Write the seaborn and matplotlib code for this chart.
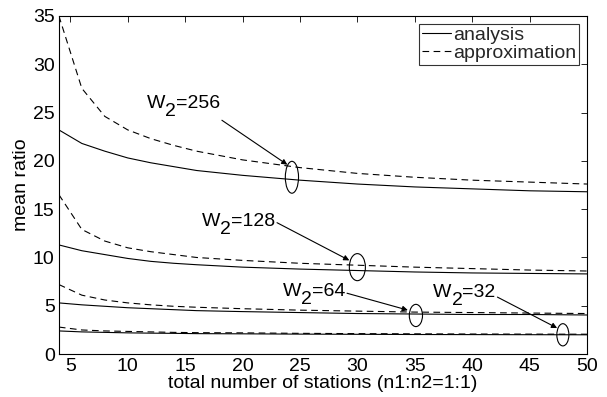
import matplotlib
matplotlib.use("Agg")
import matplotlib.pyplot as plt
from matplotlib.patches import Ellipse
from matplotlib.lines import Line2D
import seaborn as sns
import pandas as pd

sns.set_theme(style="white")
plt.rcParams['font.family'] = ['Liberation Sans', 'DejaVu Sans']

x = [4, 6, 8, 10, 12, 14, 16, 20, 25, 30, 35, 40, 45, 50]

approx_256 = [35.0, 27.5, 24.6, 23.2, 22.3, 21.6, 21.0, 20.1, 19.3, 18.7, 18.3, 18.0, 17.8, 17.6]
analysis_256 = [23.2, 21.8, 21.0, 20.3, 19.8, 19.4, 19.0, 18.5, 18.0, 17.6, 17.3, 17.1, 16.9, 16.8]
approx_128 = [16.5, 12.9, 11.7, 11.0, 10.6, 10.3, 10.0, 9.7, 9.4, 9.2, 9.0, 8.85, 8.7, 8.6]
analysis_128 = [11.3, 10.7, 10.3, 9.9, 9.6, 9.4, 9.25, 9.0, 8.8, 8.65, 8.5, 8.4, 8.35, 8.3]
approx_64 = [7.2, 6.1, 5.6, 5.3, 5.1, 4.95, 4.85, 4.7, 4.55, 4.45, 4.35, 4.3, 4.25, 4.2]
analysis_64 = [5.3, 5.1, 4.95, 4.8, 4.7, 4.6, 4.5, 4.4, 4.3, 4.2, 4.15, 4.1, 4.1, 4.05]
approx_32 = [2.8, 2.5, 2.4, 2.35, 2.3, 2.25, 2.22, 2.2, 2.15, 2.12, 2.1, 2.08, 2.07, 2.06]
analysis_32 = [2.4, 2.3, 2.25, 2.2, 2.17, 2.15, 2.12, 2.1, 2.07, 2.05, 2.03, 2.02, 2.01, 2.0]

xticks = [5, 10, 15, 20, 25, 30, 35, 40, 45, 50]
yticks = [0, 5, 10, 15, 20, 25, 30, 35]

series = {
    ("analysis", 256): analysis_256, ("approximation", 256): approx_256,
    ("analysis", 128): analysis_128, ("approximation", 128): approx_128,
    ("analysis", 64): analysis_64, ("approximation", 64): approx_64,
    ("analysis", 32): analysis_32, ("approximation", 32): approx_32,
}

FS = 14
fig = plt.figure(figsize=(6.07, 3.97), dpi=100)
ax = fig.add_axes([0.097, 0.108, 0.870, 0.852])

dash = (0, (6, 4))
for (kind, w), vals in series.items():
    df = pd.DataFrame({"n": x, "ratio": vals})
    sns.lineplot(data=df, x="n", y="ratio", ax=ax, color="black", lw=0.8,
                 linestyle="-" if kind == "analysis" else dash, legend=False)

# annotations: label, text baseline y, arrow start, arrow end, ellipse centre, size
ann = [
    ("256", 25.5, (18.2, 24.2), (23.9, 19.6), (24.3, 18.3), 1.15, 3.3),
    ("128", 13.3, (23.0, 13.6), (29.3, 9.7), (30.0, 9.0), 1.4, 2.8),
    ("64", 6.0, (29.1, 6.3), (34.4, 4.55), (35.1, 4.0), 1.15, 2.3),
    ("32", 5.9, (42.2, 5.9), (47.4, 2.7), (47.9, 2.0), 1.05, 2.3),
]
SUB = 6  # subscript drop in points
for lab, base, a0, a1, ec, ew, eh in ann:
    t3 = ax.text(a0[0] - 0.15, base, "=" + lab, ha="right", va="baseline",
                 fontsize=FS, color="black")
    t2 = ax.annotate("2", xy=(0, 0), xycoords=t3, xytext=(0, -SUB),
                     textcoords="offset points", ha="right", va="bottom",
                     fontsize=FS, color="black")
    ax.annotate("W", xy=(0, 0), xycoords=t2, xytext=(0, SUB),
                textcoords="offset points", ha="right", va="bottom",
                fontsize=FS, color="black")
    ax.annotate("", xy=a1, xytext=a0,
                arrowprops=dict(arrowstyle="-|>", color="black", lw=0.8,
                                mutation_scale=8, shrinkA=0, shrinkB=0))
    ax.add_patch(Ellipse(ec, ew, eh, fill=False, edgecolor="black", lw=0.8))

ax.set_xlim(4, 50)
ax.set_ylim(0, 35)
ax.set_xticks(xticks)
ax.set_yticks(yticks)
ax.tick_params(direction="in", top=True, right=True, length=4, width=0.6,
               labelsize=FS, colors="black", pad=3)
for s in ax.spines.values():
    s.set_color("black")
    s.set_linewidth(0.8)
ax.set_xlabel("total number of stations (n1:n2=1:1)", fontsize=FS, labelpad=0, color="black")
ax.set_ylabel("mean ratio", fontsize=FS, labelpad=2, color="black")

handles = [Line2D([], [], color="black", lw=0.8, linestyle="-"),
           Line2D([], [], color="black", lw=0.8, linestyle=dash)]
leg = ax.legend(handles, ["analysis", "approximation"], loc="upper right",
                fontsize=FS, frameon=True, fancybox=False, handlelength=1.5,
                handletextpad=0.1, borderpad=0.15, labelspacing=0.0,
                borderaxespad=0.4)
leg.get_frame().set_edgecolor("black")
leg.get_frame().set_linewidth(0.8)

fig.savefig("out.png", dpi=100)
